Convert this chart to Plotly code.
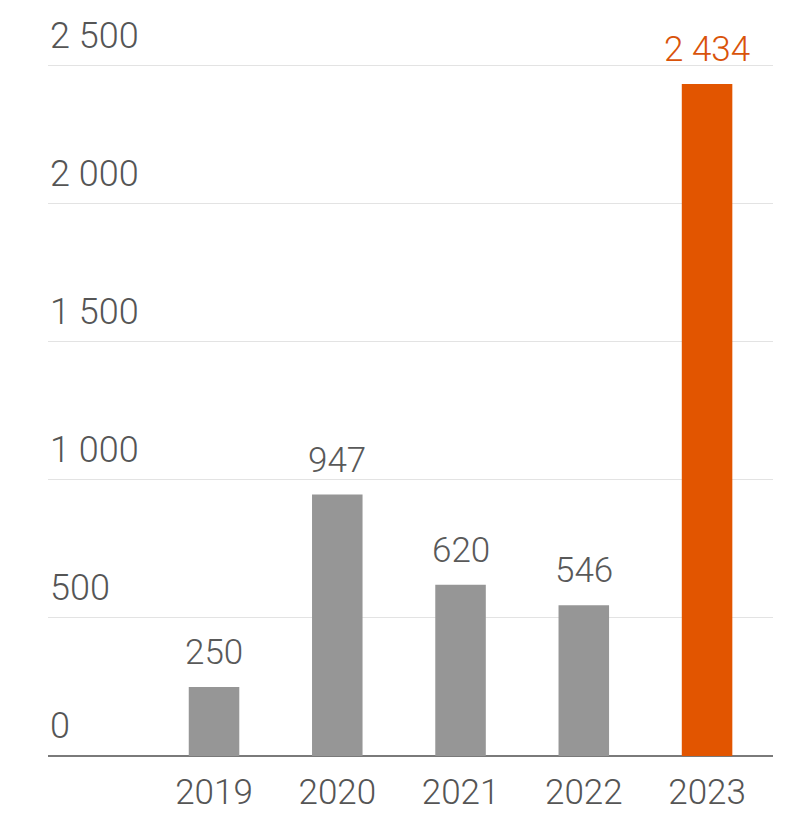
import plotly.graph_objects as go

# Annual values by year
years = ["2019", "2020", "2021", "2022", "2023"]
values = [250, 947, 620, 546, 2434]
bar_colors = ["#969696", "#969696", "#969696", "#969696", "#E25500"]
label_colors = ["#595959", "#595959", "#595959", "#595959", "#D9530A"]
y_ticks = [0, 500, 1000, 1500, 2000, 2500]

FONT = "Roboto"
TEXT_GRAY = "#555555"


def fmt(v):
    return f"{v:,}".replace(",", " ")


fig = go.Figure(
    go.Bar(
        x=years,
        y=values,
        marker=dict(color=bar_colors, line=dict(width=0)),
        width=0.41,
        hoverinfo="skip",
    )
)

annotations = []
# value labels above each bar (x given as category index)
for i, (v, c) in enumerate(zip(values, label_colors)):
    annotations.append(dict(
        x=i, y=v, xref="x", yref="y", text=fmt(v), showarrow=False,
        xanchor="center", yanchor="bottom", yshift=12,
        font=dict(family=FONT, size=35, color=c, weight=300),
    ))
# y-axis labels sitting above their gridlines, flush left
for t in y_ticks:
    annotations.append(dict(
        x=0, y=t, xref="paper", yref="y", text=fmt(t), showarrow=False,
        xanchor="left", yanchor="bottom", yshift=7,
        font=dict(family=FONT, size=36, color=TEXT_GRAY, weight=300),
    ))

fig.update_layout(
    width=806, height=813,
    margin=dict(l=48, r=33, t=63, b=57, autoexpand=False),
    paper_bgcolor="white", plot_bgcolor="white",
    showlegend=False,
    annotations=annotations,
    xaxis=dict(
        type="category",
        range=[-1.347, 4.535],
        automargin=False,
        showgrid=False, showline=False, zeroline=False,
        ticks="", ticklabelstandoff=12,
        tickfont=dict(family=FONT, size=35, color=TEXT_GRAY, weight=300),
    ),
    yaxis=dict(
        range=[0, 2510],
        automargin=False,
        tickvals=y_ticks,
        showticklabels=False,
        showgrid=True, gridcolor="#e3e3e3", gridwidth=1,
        zeroline=True, zerolinecolor="#7a7a7a", zerolinewidth=2,
        showline=False, ticks="",
    ),
)

fig.write_html("out.html")
